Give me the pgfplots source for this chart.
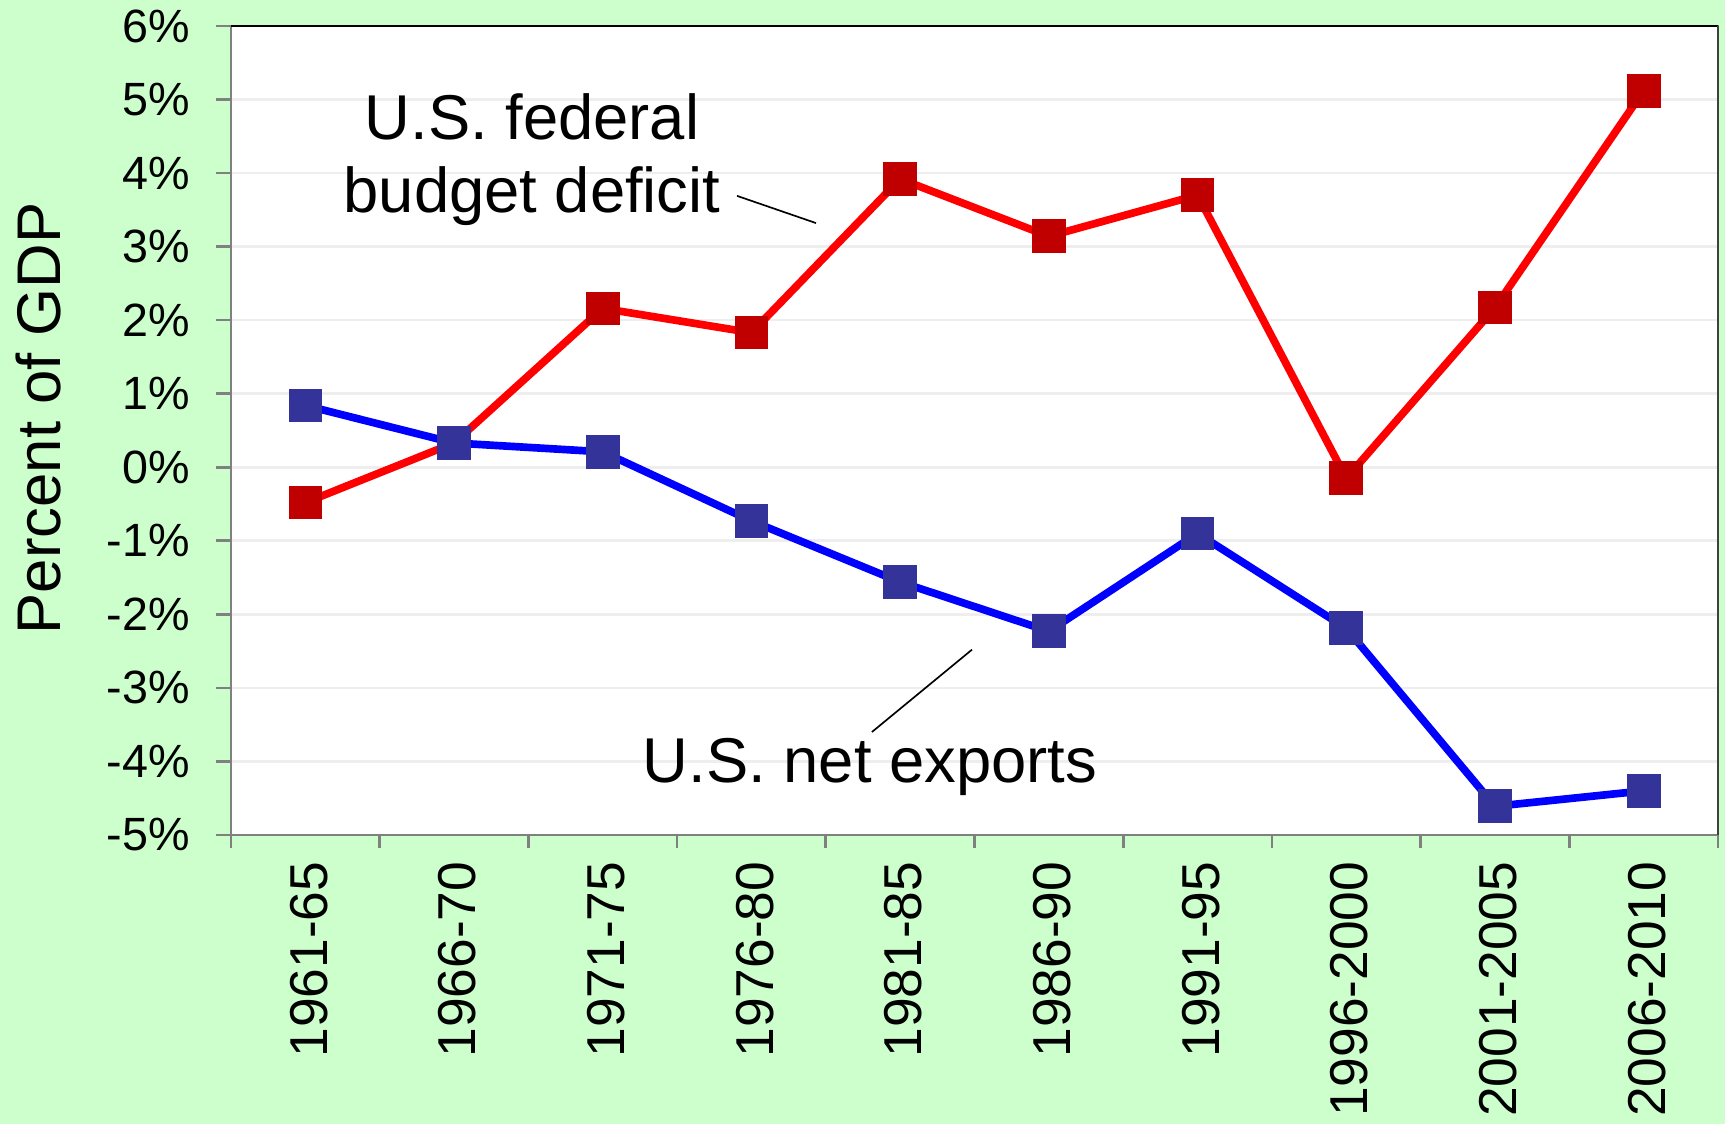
\documentclass[border=0pt]{standalone}
\usepackage{fontspec}
\setmainfont{Liberation Sans}
\usepackage{pgfplots}
\pgfplotsset{compat=1.18}
\definecolor{bgGreen}{RGB}{204,255,204}
\definecolor{defLine}{RGB}{255,0,0}
\definecolor{defMark}{RGB}{192,0,0}
\definecolor{nxLine}{RGB}{0,0,255}
\definecolor{nxMark}{RGB}{51,51,153}
\definecolor{gridGray}{RGB}{238,238,238}

\begin{document}
\begin{tikzpicture}
\fill[bgGreen] (0,0) rectangle (517.5pt,337.2pt);
\begin{axis}[
    at={(69.3pt,86.7pt)}, anchor=south west,
    scale only axis, width=446.1pt, height=242.7pt,
    xmin=-0.5, xmax=9.5, ymin=-5, ymax=6,
    axis background/.style={fill=white},
    axis line style={draw=gray, line width=0.8pt},
    xtick={0,...,9},
    xticklabels={1961-65,1966-70,1971-75,1976-80,1981-85,1986-90,1991-95,1996-2000,2001-2005,2006-2010},
    minor xtick={-0.5,0.5,...,9.5},
    ytick={-5,...,6},
    yticklabels={-5\%,-4\%,-3\%,-2\%,-1\%,0\%,1\%,2\%,3\%,4\%,5\%,6\%},
    ymajorgrids, grid style={gridGray, line width=0.8pt},
    tick align=outside, tick pos=left,
    major x tick style={draw=none},
    minor x tick style={gray, line width=0.8pt},
    y tick style={gray, line width=0.8pt},
    major tick length=4.5pt, minor tick length=4pt,
    xticklabel style={rotate=90, anchor=east, yshift=-1pt, font=\fontsize{16}{19}\selectfont},
    yticklabel style={xshift=-4.3pt, font=\fontsize{14}{17}\selectfont},
    ylabel={Percent of GDP},
    every axis y label/.style={at={(rel axis cs:0,0.515)}, xshift=-57.9pt, rotate=90, anchor=center, font=\fontsize{18.5}{22}\selectfont},
    clip=false,
]
% federal budget deficit
\addplot[defLine, line width=2.3pt, mark=square*, mark size=3.9pt,
    mark options={fill=defMark, draw=defMark}] coordinates {
    (0,-0.48) (1,0.33) (2,2.16) (3,1.83) (4,3.92)
    (5,3.14) (6,3.70) (7,-0.15) (8,2.17) (9,5.12)
};
% net exports
\addplot[nxLine, line width=2.3pt, mark=square*, mark size=3.9pt,
    mark options={fill=nxMark, draw=nxMark}] coordinates {
    (0,0.84) (1,0.33) (2,0.21) (3,-0.73) (4,-1.56)
    (5,-2.23) (6,-0.90) (7,-2.19) (8,-4.61) (9,-4.40)
};
\draw[black, line width=0.8pt] (rel axis cs:0,1) -- (rel axis cs:1,1);
\draw[darkgray, line width=0.8pt] (rel axis cs:1,1) -- (rel axis cs:1,0);
\node[align=center, font=\fontsize{19}{22}\selectfont] at (axis cs:1.524,4.18) {U.S. federal\\budget deficit};
\draw[black, line width=0.5pt] (axis cs:2.903,3.69) -- (axis cs:3.434,3.32);
\node[font=\fontsize{19}{22}\selectfont] at (axis cs:3.797,-4.07) {U.S. net exports};
\draw[black, line width=0.5pt] (axis cs:3.81,-3.60) -- (axis cs:4.483,-2.48);
\end{axis}
\pgfresetboundingbox
\path (0,0) rectangle (517.5pt,337.2pt);
\end{tikzpicture}
\end{document}
